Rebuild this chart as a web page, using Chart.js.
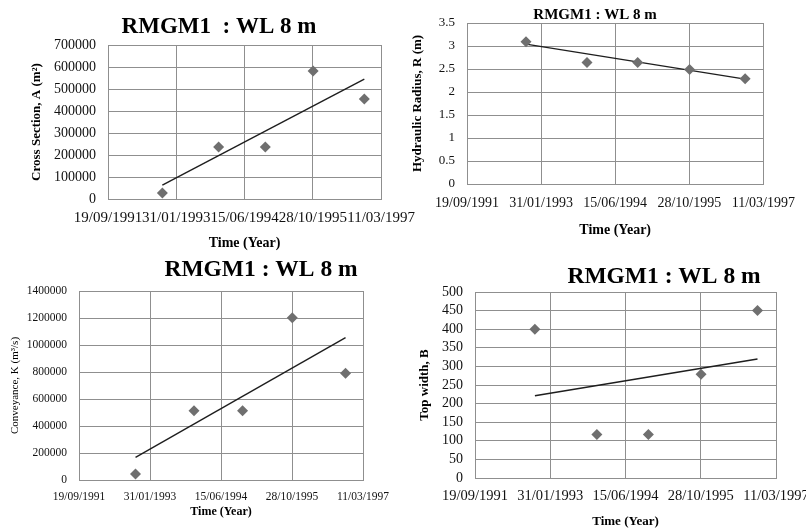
<!DOCTYPE html>
<html>
<head>
<meta charset="utf-8">
<script src="https://cdn.jsdelivr.net/npm/chart.js@4.4.1/dist/chart.umd.min.js"></script>
<style>
  html, body { margin: 0; padding: 0; background: #fff; width: 806px; height: 531px; overflow: hidden; position: relative; }
  canvas { position: absolute; }
</style>
</head>
<body>
<canvas id="areaChart"></canvas>
<canvas id="radiusChart"></canvas>
<canvas id="conveyanceChart"></canvas>
<canvas id="widthChart"></canvas>
<script>
// survey dates as Excel day serials
const dates = [33898, 34310, 34652, 35002, 35377];
const xTickValues = [33500, 34000, 34500, 35000, 35500];
const xTickLabels = ["19/09/1991", "31/01/1993", "15/06/1994", "28/10/1995", "11/03/1997"];

const crossSection = [27000, 236000, 236000, 582000, 455000];
const hydRadius = [3.09, 2.64, 2.64, 2.49, 2.29];
const conveyance = [44000, 513000, 513000, 1202000, 790000];
const topWidth = [400, 117, 117, 279, 450];

// linear trend line, value at first and last date
const trendCross = [63000, 545000];
const trendRadius = [3.04, 2.28];
const trendConv = [168000, 1054000];
const trendWidth = [221, 320];

const serif = "'Liberation Serif', 'Times New Roman', serif";
const gridColor = "#8f8f8f";

// moves the chart title to a given centre point
const titlePos = {
  id: "titlePos",
  afterLayout(chart, args, opts) {
    const t = chart.titleBlock;
    if (!t || opts.x == null) return;
    const h = t.bottom - t.top;
    t.left = opts.x - 300;
    t.right = opts.x + 300;
    t.top = opts.y - h / 2;
    t.bottom = t.top + h;
  },
};

function makeChart(id, o) {
  const el = document.getElementById(id);
  el.width = o.box.w;
  el.height = o.box.h;
  el.style.left = o.box.x + "px";
  el.style.top = o.box.y + "px";
  const titleLine = o.titleSize * 1.2;

  new Chart(el, {
    type: "scatter",
    data: {
      datasets: [
        {
          data: dates.map((d, i) => ({ x: d, y: o.values[i] })),
          pointStyle: "rectRot",
          pointRadius: 5.5,
          backgroundColor: "#6f6f6f",
          borderWidth: 0,
        },
        {
          data: [
            { x: dates[0], y: o.trend[0] },
            { x: dates[dates.length - 1], y: o.trend[1] },
          ],
          showLine: true,
          borderColor: "#1e1e1e",
          borderWidth: 1.4,
          pointRadius: 0,
        },
      ],
    },
    options: {
      responsive: false,
      animation: false,
      devicePixelRatio: 1,
      layout: {
        padding: {
          left: 0,
          top: o.plot.top - o.box.y - titleLine,
          right: o.box.x + o.box.w - o.plot.right,
          bottom: 0,
        },
      },
      plugins: {
        legend: { display: false },
        tooltip: { enabled: false },
        title: {
          display: true,
          text: o.title || "RMGM1 : WL 8 m",
          color: "#000",
          padding: 0,
          font: { family: serif, size: o.titleSize, weight: "bold" },
        },
        titlePos: { x: o.titleAt[0] - o.box.x, y: o.titleAt[1] - o.box.y },
      },
      scales: {
        x: {
          type: "linear",
          min: xTickValues[0],
          max: xTickValues[xTickValues.length - 1],
          afterFit: (s) => { s.height = o.box.y + o.box.h - o.plot.bottom; },
          grid: { color: gridColor, drawTicks: false },
          border: { color: gridColor },
          ticks: {
            stepSize: 500,
            autoSkip: false,
            maxRotation: 0,
            minRotation: 0,
            padding: o.xPad,
            color: "#111",
            font: { family: serif, size: o.xTick },
            callback: (v) => xTickLabels[xTickValues.indexOf(v)],
          },
          title: {
            display: true,
            text: "Time (Year)",
            color: "#000",
            padding: { top: 0, bottom: o.xTitlePad },
            font: { family: serif, size: o.xTitleSize, weight: "bold" },
          },
        },
        y: {
          min: 0,
          max: o.yMax,
          afterFit: (s) => { s.width = o.plot.left - o.box.x; },
          grid: { color: gridColor, drawTicks: false },
          border: { color: gridColor },
          ticks: {
            stepSize: o.yStep,
            autoSkip: false,
            padding: 12,
            color: "#111",
            font: { family: serif, size: o.yTick },
            callback: (v) => String(v),
          },
          title: {
            display: true,
            text: o.yTitle,
            color: "#000",
            padding: { top: o.yTitlePad, bottom: 0 },
            font: { family: serif, size: o.yTitleSize, weight: o.yTitleWeight || "bold" },
          },
        },
      },
    },
    plugins: [titlePos],
  });
}

makeChart("areaChart", {
  box: { x: 0, y: 0, w: 425, h: 256 },
  plot: { left: 108, top: 45, right: 386, bottom: 199 },
  values: crossSection, trend: trendCross,
  yMax: 700000, yStep: 100000,
  title: "RMGM1  : WL 8 m", titleSize: 23, titleAt: [219, 27],
  xTick: 15, xPad: 10, yTick: 14,
  xTitleSize: 14, xTitlePad: 4.6,
  yTitle: "Cross Section, A (m²)", yTitleSize: 13, yTitlePad: 29,
});

makeChart("radiusChart", {
  box: { x: 404, y: 0, w: 402, h: 256 },
  plot: { left: 467, top: 23, right: 769, bottom: 184 },
  values: hydRadius, trend: trendRadius,
  yMax: 3.5, yStep: 0.5,
  titleSize: 15, titleAt: [595, 15],
  xTick: 14, xPad: 11, yTick: 13,
  xTitleSize: 14, xTitlePad: 17.6,
  yTitle: "Hydraulic Radius, R (m)", yTitleSize: 13, yTitlePad: 6,
});

makeChart("conveyanceChart", {
  box: { x: 0, y: 256, w: 404, h: 275 },
  plot: { left: 79, top: 291, right: 363, bottom: 480 },
  values: conveyance, trend: trendConv,
  yMax: 1400000, yStep: 200000,
  titleSize: 23.5, titleAt: [261, 270],
  xTick: 11.5, xPad: 10, yTick: 11.5,
  xTitleSize: 12, xTitlePad: 11.8,
  yTitle: "Conveyance, K (m³/s)", yTitleSize: 11, yTitlePad: 9, yTitleWeight: "normal",
});

makeChart("widthChart", {
  box: { x: 404, y: 256, w: 430, h: 275 },
  plot: { left: 475, top: 292, right: 776, bottom: 478 },
  values: topWidth, trend: trendWidth,
  yMax: 500, yStep: 50,
  titleSize: 23.5, titleAt: [664, 277],
  xTick: 14.5, xPad: 9, yTick: 14,
  xTitleSize: 13, xTitlePad: 1.5,
  yTitle: "Top width, B", yTitleSize: 13, yTitlePad: 13,
});
</script>
</body>
</html>
